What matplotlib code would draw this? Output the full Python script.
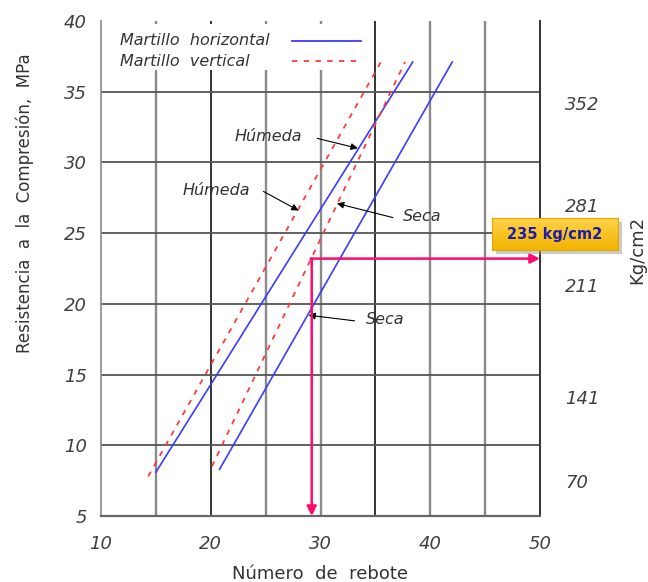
import numpy as np
import matplotlib
matplotlib.use("Agg")
import matplotlib.pyplot as plt
from matplotlib.patches import Rectangle

# rebound number vs compressive strength (MPa)
hor_humeda_x = [15.0, 38.4]
hor_humeda_y = [8.1, 37.1]
hor_seca_x = [20.8, 42.0]
hor_seca_y = [8.3, 37.1]
ver_humeda_x = [14.3, 35.5]
ver_humeda_y = [7.8, 37.1]
ver_seca_x = [20.1, 37.7]
ver_seca_y = [8.5, 37.1]

# example reading
read_x = 29.2
read_y = 23.2
read_label = "235 kg/cm2"

x_ticks = [10, 20, 30, 40, 50]
y_ticks = [5, 10, 15, 20, 25, 30, 35, 40]
kg_labels = ["70", "141", "211", "281", "352"]
kg_pos = [7.5, 13.4, 21.3, 27.0, 34.2]

# (text, text x, text y, arrow tail x, arrow tip x, arrow tip y)
notes = [
    ("Húmeda", 22.2, 31.8, 29.7, 33.4, 31.0),
    ("Húmeda", 17.4, 28.05, 24.8, 28.0, 26.6),
    ("Seca", 37.5, 26.2, 36.6, 31.5, 27.1),
    ("Seca", 34.1, 18.9, 33.1, 28.9, 19.2),
]

fig = plt.figure(figsize=(6.48, 5.82), dpi=100)
ax = fig.add_axes([101 / 648, 1 - 516 / 582, 439 / 648, 495 / 582])
ax.set_xlim(10, 50)
ax.set_ylim(5, 40)

# grid
for gx in [15, 20, 25, 30, 35, 40, 45]:
    if gx in (20, 35):
        ax.axvline(gx, color="#111111", lw=1.2, zorder=1)
    else:
        ax.axvline(gx, color="#8a8a8a", lw=1.7, zorder=1)
for gy in [10, 15, 20, 25, 30, 35]:
    ax.axhline(gy, color="#555555", lw=1.3, zorder=1)

ax.spines["top"].set_visible(False)
ax.spines["left"].set_color("#8a8a8a")
ax.spines["left"].set_linewidth(1.2)
ax.spines["bottom"].set_color("#666666")
ax.spines["bottom"].set_linewidth(1.6)
ax.spines["right"].set_color("#333333")
ax.spines["right"].set_linewidth(1.4)

blue = "#3b3bff"
red = "#ff3b3b"
dash = (0, (3, 3.5))
ax.plot(hor_humeda_x, hor_humeda_y, color=blue, lw=1.2, zorder=4)
ax.plot(hor_seca_x, hor_seca_y, color=blue, lw=1.2, zorder=4)
ax.plot(ver_humeda_x, ver_humeda_y, color=red, lw=1.3, ls=dash, zorder=4)
ax.plot(ver_seca_x, ver_seca_y, color=red, lw=1.3, ls=dash, zorder=4)

# legend: text first, line after, white backing with no frame
ax.add_patch(Rectangle((0, 0.901), 0.617, 0.093, transform=ax.transAxes,
                       facecolor="white", edgecolor="none", zorder=2))
legend_items = [("Martillo  horizontal", blue, "-", 0.960),
                ("Martillo  vertical", red, dash, 0.919)]
for lab, col, ls, ly in legend_items:
    ax.text(0.043, ly, lab, transform=ax.transAxes, ha="left", va="center",
            fontsize=11.5, color="#333333", fontstyle="italic", zorder=5)
    ax.plot([0.435, 0.592], [ly, ly], transform=ax.transAxes, color=col,
            lw=1.3, ls=ls, zorder=5)

for txt, tx, ty, tail_x, px, py in notes:
    ax.annotate("", xy=(px, py), xytext=(tail_x, ty - 0.1),
                arrowprops=dict(arrowstyle="-|>", color="black", lw=0.8, mutation_scale=10,
                                shrinkA=0, shrinkB=0), zorder=5)
    ax.text(tx, ty, txt, fontsize=11.5, color="#333333", fontstyle="italic",
            ha="left", va="center", zorder=5)

pink = "#ff0a6e"
ax.annotate("", xy=(read_x, 5), xytext=(read_x, read_y),
            arrowprops=dict(arrowstyle="-|>", color=pink, lw=1.8, mutation_scale=14,
                            shrinkA=0, shrinkB=0), zorder=6)
ax.annotate("", xy=(50, read_y), xytext=(read_x - 0.1, read_y),
            arrowprops=dict(arrowstyle="-|>", color=pink, lw=1.8, mutation_scale=14,
                            shrinkA=0, shrinkB=0), zorder=6, annotation_clip=False)

ax.set_xticks(x_ticks)
ax.set_yticks(y_ticks)
ax.tick_params(axis="x", length=0, pad=14, labelsize=13, labelcolor="#404040")
ax.tick_params(axis="y", length=0, pad=10, labelsize=13, labelcolor="#404040")
for lab in ax.get_xticklabels() + ax.get_yticklabels():
    lab.set_fontstyle("italic")

ax.set_xlabel("Número  de  rebote", fontsize=13, color="#333333", labelpad=8)
ax.text(-0.173, 0.632, "Resistencia  a  la  Compresión,  MPa", transform=ax.transAxes,
        rotation=90, ha="center", va="center", fontsize=12, color="#333333")

ax2 = ax.twinx()
ax2.set_ylim(ax.get_ylim())
ax2.set_yticks(kg_pos)
ax2.set_yticklabels(kg_labels)
ax2.tick_params(axis="y", length=0, pad=18, labelsize=13, labelcolor="#404040")
for lab in ax2.get_yticklabels():
    lab.set_fontstyle("italic")
for s in ax2.spines.values():
    s.set_visible(False)
ax2.text(1.221, 0.537, "Kg/cm2", transform=ax.transAxes, rotation=90,
         ha="center", va="center", fontsize=13, color="#333333")

# callout box with gradient and shadow
bx0, by0, bw, bh = 492 / 648, 1 - 250 / 582, 126 / 648, 32 / 582
fig.patches.append(Rectangle((bx0 + 4 / 648, by0 - 4 / 582), bw, bh, transform=fig.transFigure,
                             facecolor="#999999", alpha=0.5, edgecolor="none", zorder=8))
bax = fig.add_axes([bx0, by0, bw, bh], zorder=9)
grad = np.linspace(0, 1, 64).reshape(-1, 1)
cmap = matplotlib.colors.LinearSegmentedColormap.from_list("gold", ["#ffd34a", "#f2b300"])
bax.imshow(grad, aspect="auto", cmap=cmap, extent=(0, 1, 0, 1), origin="upper")
bax.set_xticks([])
bax.set_yticks([])
for s in bax.spines.values():
    s.set_color("#e0a800")
    s.set_linewidth(0.8)
bax.text(0.5, 0.5, read_label, ha="center", va="center", fontsize=10.5,
         fontweight="bold", color="#1e1ea8", transform=bax.transAxes)

fig.savefig("out.png", dpi=100)
